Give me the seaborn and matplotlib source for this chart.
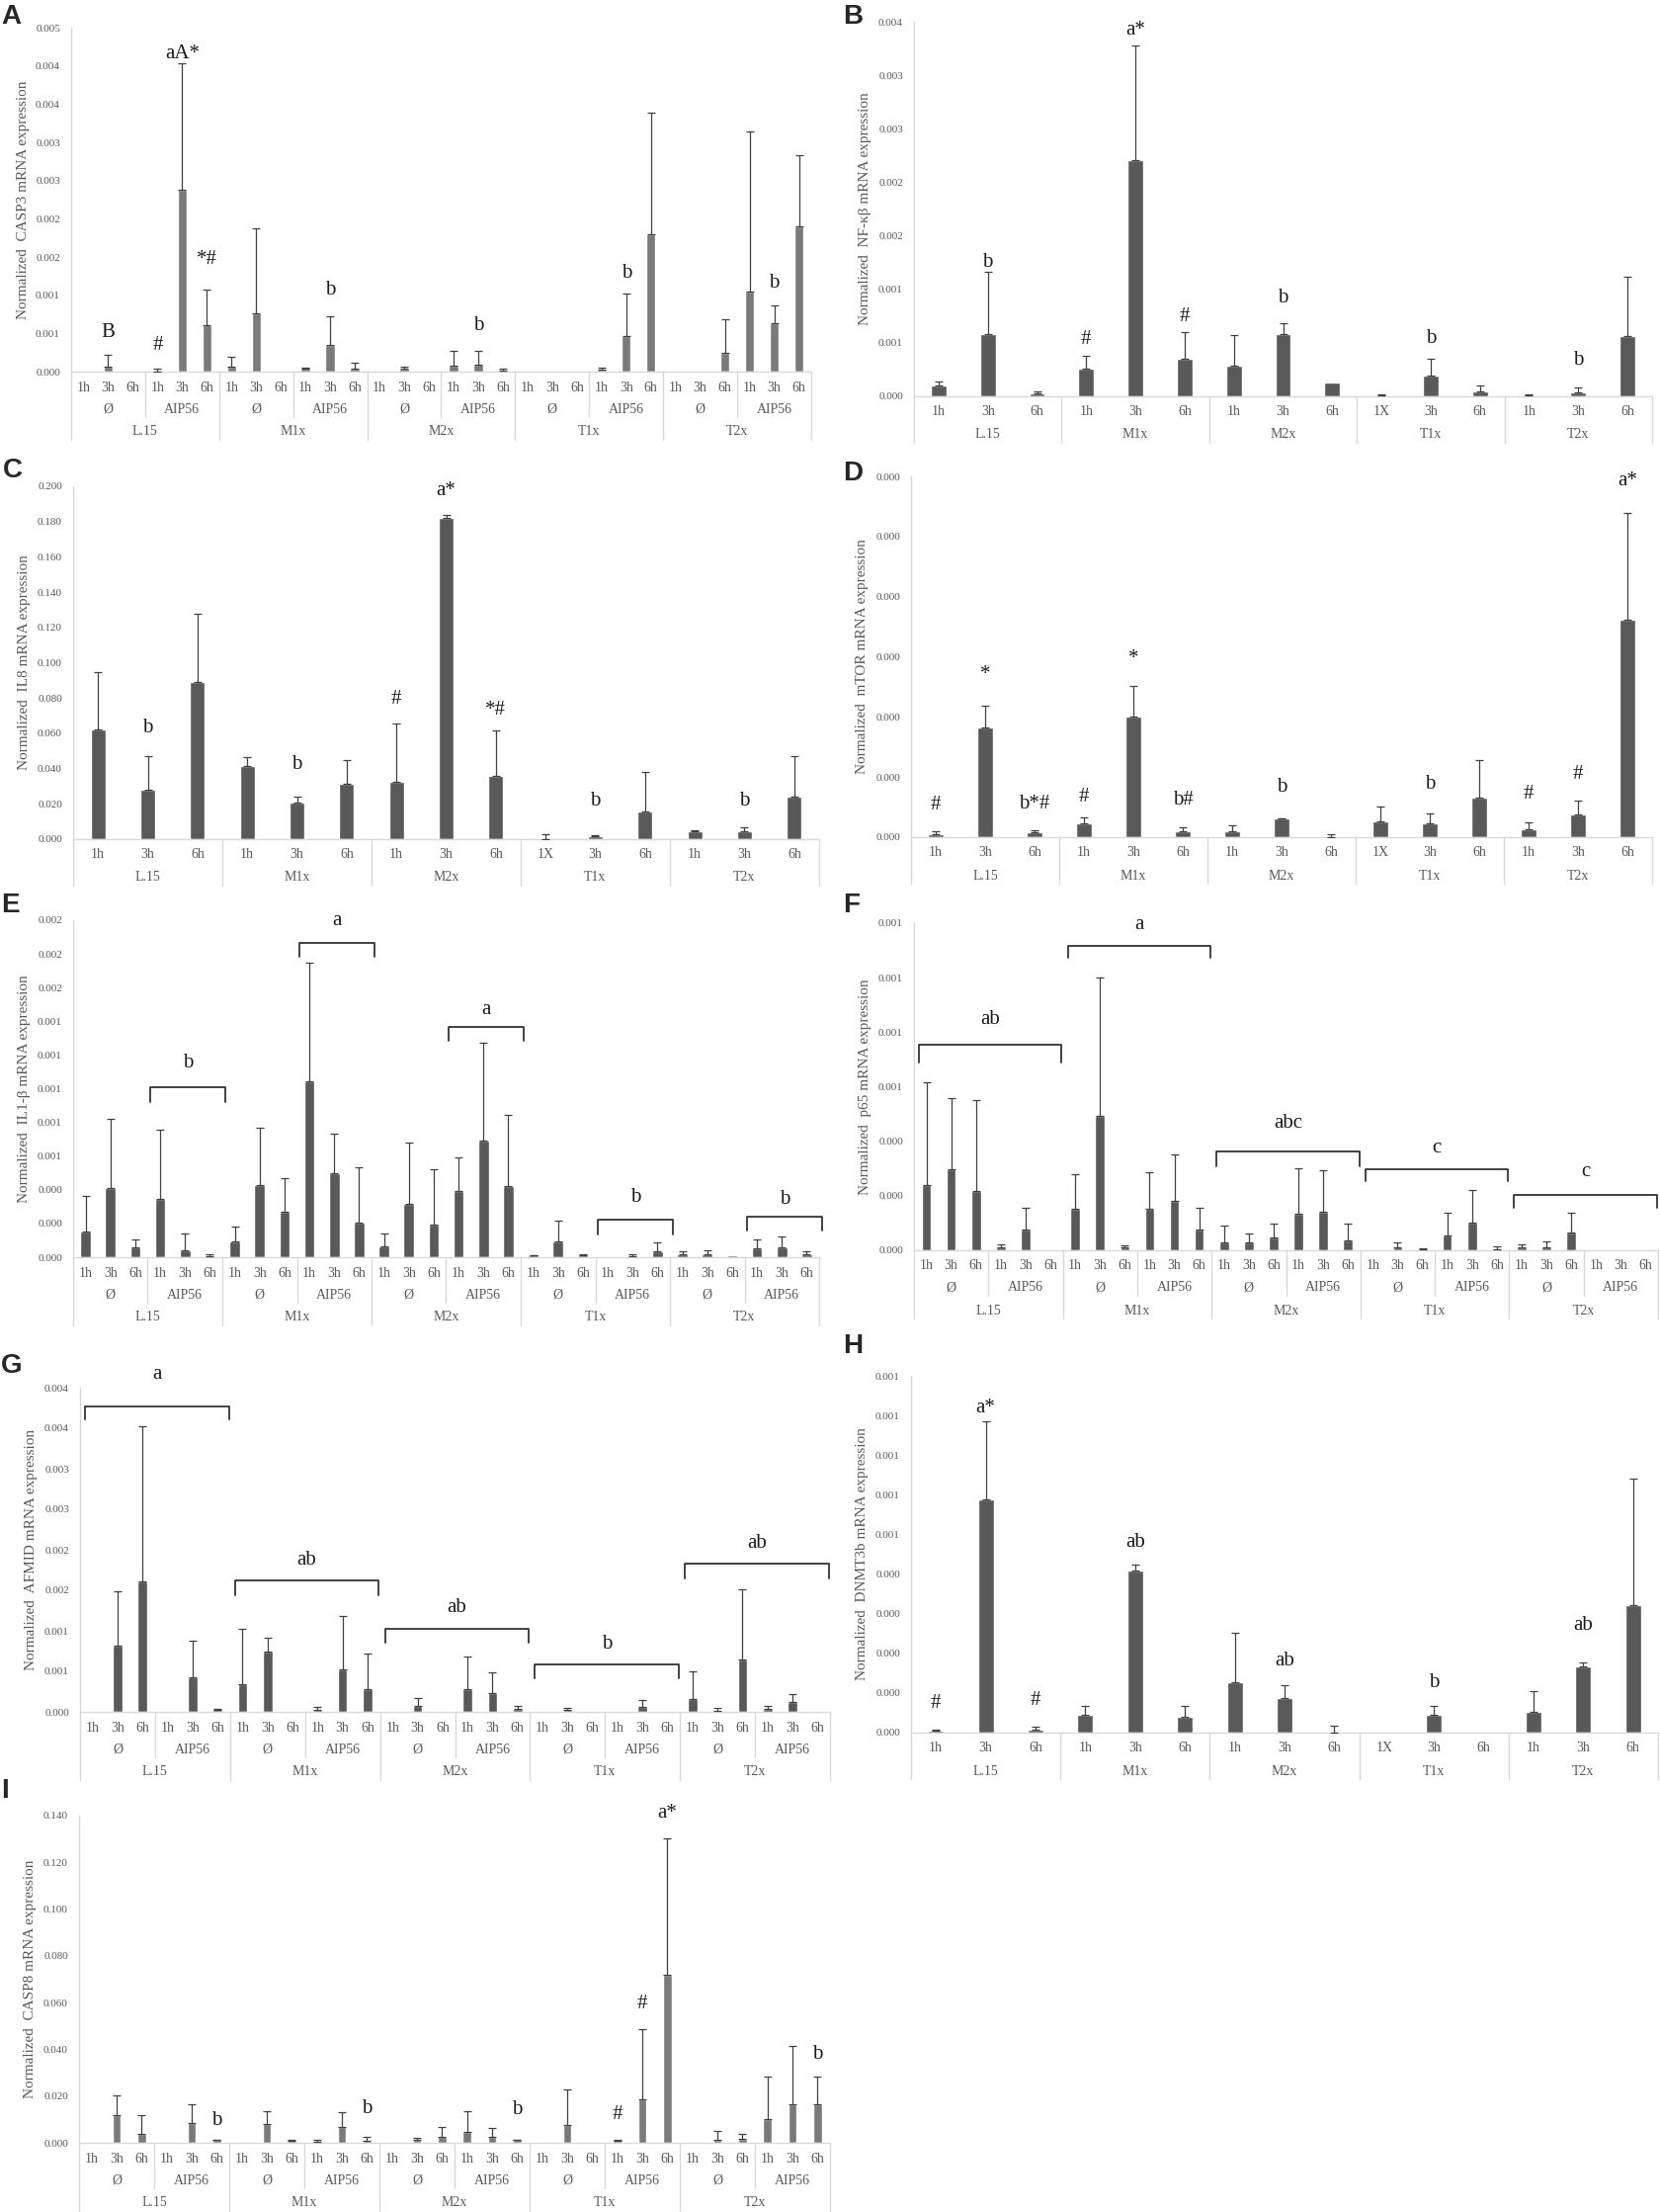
import numpy as np
import pandas as pd
import matplotlib

matplotlib.use("Agg")
import matplotlib.pyplot as plt
import seaborn as sns
from matplotlib.transforms import blended_transform_factory

# x-axis category labels
cell_lines = ["L.15", "M1x", "M2x", "T1x", "T2x"]
treatments = ["Ø", "AIP56"]
times_30 = ["1h", "3h", "6h"] * 10
times_15 = ["1h", "3h", "6h", "1h", "3h", "6h", "1h", "3h", "6h",
            "1X", "3h", "6h", "1h", "3h", "6h"]

# A - CASP3 (30 bars)
casp3_mean = [0.00001, 0.00007, 0.00001, 0.000005, 0.00238, 0.00061,
              0.000065, 0.00076, 0.00001, 0.00004, 0.000345, 0.00004,
              0.000005, 0.000035, 0.00001, 0.000082, 0.000095, 0.00001,
              0.000005, 0.000008, 0.000005, 0.000026, 0.00046, 0.0018,
              0.000005, 0.000005, 0.00025, 0.00105, 0.00063, 0.0019]
casp3_sd = [0, 0.000155, 0, 0.000035, 0.00165, 0.00046,
            0.00013, 0.00111, 0, 0.000016, 0.000375, 0.00008,
            0, 0.00003, 0, 0.000188, 0.000175, 0.000025,
            0, 0, 0, 0.00003, 0.00056, 0.00159,
            0, 0, 0.00044, 0.00209, 0.00024, 0.00093]
casp3_ticks = [0, 0.0005, 0.001, 0.0015, 0.002, 0.0025, 0.003, 0.0035, 0.004, 0.0045]
casp3_tick_labels = ["0.000", "0.001", "0.001", "0.002", "0.002", "0.003", "0.003", "0.004", "0.004", "0.005"]
casp3_notes = [(1, "B", 0.00051), (3, "#", 0.00034), (4, "aA*", 0.00416), (5, "*#", 0.00147),
               (10, "b", 0.00107), (16, "b", 0.00060), (22, "b", 0.00129), (28, "b", 0.00116)]

# B - NF-kb (15 bars)
nfkb_mean = [0.0001, 0.00058, 0.00003, 0.00026, 0.00221, 0.00035, 0.000286, 0.00058,
             0.00013, 0.00001, 0.000194, 0.000046, 0.00001, 0.00004, 0.00056]
nfkb_sd = [0.00004, 0.00058, 0.000016, 0.000118, 0.00107, 0.000253, 0.000289, 0.000106,
           0, 0.000011, 0.000154, 0.000054, 0.00001, 0.00004, 0.00056]
nfkb_ticks = [0, 0.0005, 0.001, 0.0015, 0.002, 0.0025, 0.003, 0.0035]
nfkb_tick_labels = ["0.000", "0.001", "0.001", "0.002", "0.002", "0.003", "0.003", "0.004"]
nfkb_notes = [(4, "a*", 0.003425), (1, "b", 0.001255), (3, "#", 0.000532), (5, "#", 0.000748),
              (7, "b", 0.000923), (10, "b", 0.000538), (13, "b", 0.000338)]

# C - IL8 (15 bars)
il8_mean = [0.0621, 0.0282, 0.089, 0.0414, 0.0207, 0.0315, 0.0325, 0.1819, 0.0358,
            0.0002, 0.0019, 0.0155, 0.0045, 0.0045, 0.0241]
il8_sd = [0.0325, 0.0188, 0.0388, 0.0051, 0.0032, 0.0133, 0.0332, 0.0017, 0.0256,
          0.0024, 0.0003, 0.0224, 0.0004, 0.0024, 0.0229]
il8_ticks = [0, 0.02, 0.04, 0.06, 0.08, 0.10, 0.12, 0.14, 0.16, 0.18, 0.20]
il8_tick_labels = ["0.000", "0.020", "0.040", "0.060", "0.080", "0.100", "0.120", "0.140", "0.160", "0.180", "0.200"]
il8_notes = [(7, "a*", 0.1972), (1, "b", 0.0632), (4, "b", 0.0424), (6, "#", 0.0793),
             (8, "*#", 0.0731), (10, "b", 0.0213), (13, "b", 0.0218)]

# D - mTOR (15 bars)
mtor_mean = [0.0000027, 0.0000914, 0.0000038, 0.0000118, 0.0000999, 0.0000049, 0.0000049, 0.0000153,
             0.0000003, 0.0000129, 0.0000112, 0.0000331, 0.0000066, 0.0000189, 0.0001812]
mtor_sd = [0.0000020, 0.0000183, 0.0000017, 0.0000046, 0.0000257, 0.0000036, 0.0000052, 0.0000003,
           0.0000019, 0.0000123, 0.0000085, 0.0000312, 0.0000057, 0.0000112, 0.0000885]
mtor_ticks = [0, 0.00005, 0.0001, 0.00015, 0.0002, 0.00025, 0.0003]
mtor_tick_labels = ["0.000"] * 7
mtor_notes = [(0, "#", 0.0000265), (1, "*", 0.0001355), (2, "b*#", 0.0000279), (3, "#", 0.0000334),
              (4, "*", 0.0001483), (5, "b#", 0.0000306), (7, "b", 0.0000416), (10, "b", 0.0000443),
              (12, "#", 0.0000361), (13, "#", 0.0000526), (14, "a*", 0.0002962)]

# E - IL1-b (30 bars)
il1b_mean = [0.000150, 0.000412, 0.0000605, 0.000348, 0.000043, 0.0000078,
             0.0000938, 0.00043, 0.00027, 0.001045, 0.000498, 0.000207,
             0.0000664, 0.000318, 0.000195, 0.000395, 0.000693, 0.000424,
             0.0000117, 0.0000938, 0.0000137, 0.000004, 0.0000078, 0.0000371,
             0.0000195, 0.0000195, 0.0000137, 0.0000547, 0.0000605, 0.0000176]
il1b_sd = [0.000211, 0.000412, 0.0000465, 0.000406, 0.000096, 0.0000078,
           0.0000902, 0.00034, 0.000199, 0.000701, 0.000238, 0.000326,
           0.0000726, 0.000364, 0.000328, 0.000195, 0.000577, 0.00042,
           0.000002, 0.000123, 0.000002, 0, 0.0000078, 0.0000508,
           0.0000157, 0.0000215, 0, 0.0000493, 0.0000605, 0.0000156]
il1b_ticks = [0, 0.0002, 0.0004, 0.0006, 0.0008, 0.001, 0.0012, 0.0014, 0.0016, 0.0018, 0.002]
il1b_tick_labels = ["0.000", "0.000", "0.000", "0.001", "0.001", "0.001", "0.001", "0.001", "0.002", "0.002", "0.002"]
il1b_brackets = [(3, 5, 0.001006, 0.000918, "b", 0.00115),
                 (9, 11, 0.001867, 0.001785, "a", 0.0020),
                 (15, 17, 0.001369, 0.001283, "a", 0.001469),
                 (21, 23, 0.000223, 0.000135, "b", 0.000355),
                 (27, 29, 0.000242, 0.00016, "b", 0.000346)]

# F - p65 (30 bars)
p65_mean = [0.000239, 0.000298, 0.000216, 0.0000121, 0.0000773, 0,
            0.000152, 0.000492, 0.0000121, 0.000152, 0.000181, 0.0000761,
            0.0000302, 0.000029, 0.0000483, 0.000135, 0.000141, 0.0000363,
            0, 0.0000109, 0.0000048, 0.0000544, 0.000102, 0.0000036,
            0.0000097, 0.0000097, 0.000064, 0, 0, 0.0000012]
p65_sd = [0.000377, 0.00026, 0.000334, 0.0000084, 0.0000797, 0,
          0.000128, 0.000507, 0.0000048, 0.000136, 0.000169, 0.0000809,
          0.0000604, 0.0000338, 0.0000508, 0.000165, 0.000151, 0.0000628,
          0, 0.0000193, 0.0000012, 0.0000846, 0.000119, 0.0000121,
          0.0000133, 0.0000241, 0.000075, 0, 0, 0]
p65_ticks = [0, 0.0002, 0.0004, 0.0006, 0.0008, 0.001, 0.0012]
p65_tick_labels = ["0.000", "0.000", "0.000", "0.001", "0.001", "0.001", "0.001"]
p65_brackets = [(0, 5, 0.000755, 0.000689, "ab", 0.000846),
                (6, 11, 0.001118, 0.001072, "a", 0.001193),
                (12, 17, 0.000363, 0.000308, "abc", 0.000465),
                (18, 23, 0.000298, 0.000254, "c", 0.000375),
                (24, 29, 0.000203, 0.000157, "c", 0.00029)]

# G - AFMID (30 bars)
afmid_mean = [0.000008, 0.000822, 0.001607, 0.000008, 0.000423, 0.00002,
              0.000338, 0.000744, 0, 0.00002, 0.000529, 0.000277,
              0, 0.0000732, 0.000008, 0.000277, 0.000236, 0.0000366,
              0, 0.00002, 0, 0.000008, 0.000057, 0,
              0.000155, 0.000012, 0.000651, 0.0000366, 0.000118, 0]
afmid_sd = [0, 0.000671, 0.00192, 0, 0.00046, 0.000013,
            0.000687, 0.000171, 0, 0.000045, 0.000659, 0.000439,
            0, 0.000102, 0, 0.000411, 0.000248, 0.0000324,
            0, 0.000029, 0, 0, 0.000093, 0,
            0.000341, 0.000033, 0.000866, 0.0000364, 0.000106, 0]
afmid_ticks = [0, 0.0005, 0.001, 0.0015, 0.002, 0.0025, 0.003, 0.0035, 0.004]
afmid_tick_labels = ["0.000", "0.001", "0.001", "0.002", "0.002", "0.003", "0.003", "0.004", "0.004"]
afmid_brackets = [(0, 5, 0.003763, 0.003612, "a", 0.00417),
                  (6, 11, 0.001627, 0.001444, "ab", 0.001871),
                  (12, 17, 0.001025, 0.000854, "ab", 0.001281),
                  (18, 23, 0.000582, 0.000415, "b", 0.000834),
                  (24, 29, 0.001831, 0.001648, "ab", 0.002075)]

# H - DNMT3b (15 bars)
dnmt_mean = [0.0000042, 0.000588, 0.0000075, 0.0000441, 0.00041, 0.0000408, 0.000127, 0.0000874,
             0, 0.0000017, 0.0000441, 0.0000033, 0.0000516, 0.000168, 0.000321]
dnmt_sd = [0.0000025, 0.000197, 0.0000083, 0.0000225, 0.000015, 0.0000258, 0.000124, 0.0000316,
           0.0000183, 0, 0.0000225, 0, 0.0000524, 0.000009, 0.00032]
dnmt_ticks = [0, 0.0001, 0.0002, 0.0003, 0.0004, 0.0005, 0.0006, 0.0007, 0.0008, 0.0009]
dnmt_tick_labels = ["0.000"] * 5 + ["0.001"] * 5
dnmt_notes = [(1, "a*", 0.00082), (0, "#", 0.0000733), (2, "#", 0.00008), (4, "ab", 0.000481),
              (7, "ab", 0.00018), (10, "b", 0.000125), (13, "ab", 0.000271)]

# I - CASP8 (30 bars)
casp8_mean = [0.0004, 0.01196, 0.00394, 0.00056, 0.0083, 0.0011,
              0.00056, 0.00802, 0.001, 0.00056, 0.00675, 0.0007,
              0.0004, 0.0011, 0.00253, 0.0045, 0.00267, 0.0011,
              0.0004, 0.00774, 0.0004, 0.0007, 0.01843, 0.07204,
              0.0004, 0.0014, 0.0018, 0.01027, 0.01646, 0.01646]
casp8_sd = [0, 0.00831, 0.00802, 0, 0.00816, 0.0003,
            0, 0.00535, 0.0003, 0.0007, 0.00633, 0.00183,
            0, 0.00115, 0.00422, 0.009, 0.00366, 0.0001,
            0, 0.01506, 0, 0.0006, 0.03039, 0.05836,
            0, 0.00352, 0.00186, 0.01787, 0.02491, 0.01196]
casp8_ticks = [0, 0.02, 0.04, 0.06, 0.08, 0.10, 0.12, 0.14]
casp8_tick_labels = ["0.000", "0.020", "0.040", "0.060", "0.080", "0.100", "0.120", "0.140"]
casp8_notes = [(23, "a*", 0.1411), (22, "#", 0.0595), (21, "#", 0.012), (5, "b", 0.0094),
               (11, "b", 0.0148), (17, "b", 0.0141), (29, "b", 0.0377)]

W, H = 1681, 2238
GRID = "#d9d9d9"
TXT = "#595959"

sns.set_theme(style="white")
plt.rcParams["font.family"] = ["Liberation Serif", "DejaVu Serif"]

fig = plt.figure(figsize=(W / 100, H / 100), dpi=100)


def draw_panel(box, letter, letter_xy, means, sds, ticks, tick_labels, ylabel,
               notes=(), brackets=(), three_level=True, color="#595959", bar_w=0.38):
    left, right, top, base = box
    wpx, hpx = right - left, base - top
    ax = fig.add_axes([left / W, 1 - base / H, wpx / W, hpx / H])
    n = len(means)
    df = pd.DataFrame({"slot": np.arange(n), "value": means})
    sns.barplot(data=df, x="slot", y="value", color=color, saturation=1,
                width=bar_w, errorbar=None, ax=ax)
    m, s = np.array(means), np.array(sds)
    k = s > 0
    ax.errorbar(np.arange(n)[k], m[k], yerr=[np.zeros(k.sum()), s[k]], fmt="none",
                ecolor="#404040", elinewidth=0.9, capsize=3, capthick=0.9, zorder=3)
    ax.set_xlim(-0.5, n - 0.5)
    ax.set_ylim(ticks[0], ticks[-1])
    ax.set_yticks(ticks)
    ax.set_yticklabels(tick_labels)
    ax.set_xticks([])
    ax.set_xlabel("")
    ax.set_ylabel("")
    ax.tick_params(axis="y", length=0, labelsize=8, labelcolor=TXT, pad=8)
    for sp in ["top", "right"]:
        ax.spines[sp].set_visible(False)
    for sp in ["left", "bottom"]:
        ax.spines[sp].set_color(GRID)
        ax.spines[sp].set_linewidth(1)

    trans = blended_transform_factory(ax.transData, ax.transAxes)
    lab = dict(transform=trans, ha="center", va="center", fontsize=10, color=TXT, clip_on=False)
    line = dict(transform=trans, color=GRID, lw=1, clip_on=False)
    if three_level:
        times = times_30
        for i, t in enumerate(times):
            ax.text(i, -16 / hpx, t, **lab)
        for g in range(10):
            ax.text(3 * g + 1, -38 / hpx, treatments[g % 2], **lab)
        for c in range(5):
            ax.text(6 * c + 2.5, -61 / hpx, cell_lines[c], **lab)
            ax.plot([6 * c + 2.5] * 2, [0, -46 / hpx], **line)
        for b in range(6):
            ax.plot([6 * b - 0.5] * 2, [0, -69 / hpx], **line)
    else:
        times = times_15
        for i, t in enumerate(times):
            ax.text(i, -16 / hpx, t, **lab)
        for c in range(5):
            ax.text(3 * c + 1, -39 / hpx, cell_lines[c], **lab)
        for b in range(6):
            ax.plot([3 * b - 0.5] * 2, [0, -47 / hpx], **line)

    ax.text(-49 / wpx, 0.5, ylabel, transform=ax.transAxes, rotation=90,
            ha="center", va="center", fontsize=11, color=TXT)

    for i, t, y in notes:
        ax.text(i, y, t, ha="center", va="center", fontsize=15, color="#1a1a1a", clip_on=False)
    for s0, s1, y, y_end, t, ty in brackets:
        if s1 - s0 >= 5:
            x0, x1 = s0 - 0.3, s1 + 0.45
        else:
            x0, x1 = s0 - 0.4, s1 + 0.6
        ax.plot([x0, x0, x1, x1], [y_end, y, y, y_end], color="#333333", lw=1.3, clip_on=False)
        ax.text((x0 + x1) / 2, ty, t, ha="center", va="center", fontsize=15,
                color="#1a1a1a", clip_on=False)

    fig.text(letter_xy[0] / W, 1 - letter_xy[1] / H, letter, ha="left", va="top",
             fontsize=20, fontweight="bold", family=["Liberation Sans", "DejaVu Sans"])
    return ax


draw_panel((72, 821, 28, 376), "A", (1, 4), casp3_mean, casp3_sd, casp3_ticks, casp3_tick_labels,
           "Normalized  CASP3 mRNA expression", notes=casp3_notes, color="#7a7a7a")
draw_panel((925, 1672, 22, 401), "B", (853, 4), nfkb_mean, nfkb_sd, nfkb_ticks, nfkb_tick_labels,
           "Normalized  NF-κβ mRNA expression", notes=nfkb_notes, three_level=False, bar_w=0.32)
draw_panel((74, 829, 492, 849), "C", (3, 463), il8_mean, il8_sd, il8_ticks, il8_tick_labels,
           "Normalized  IL8 mRNA expression", notes=il8_notes, three_level=False, bar_w=0.3)
draw_panel((922, 1672, 482, 847), "D", (853, 466), mtor_mean, mtor_sd, mtor_ticks, mtor_tick_labels,
           "Normalized  mTOR mRNA expression", notes=mtor_notes, three_level=False, bar_w=0.32)
draw_panel((74, 829, 931, 1272), "E", (1, 903), il1b_mean, il1b_sd, il1b_ticks, il1b_tick_labels,
           "Normalized  IL1-β mRNA expression", brackets=il1b_brackets, bar_w=0.42)
draw_panel((925, 1678, 934, 1265), "F", (853, 903), p65_mean, p65_sd, p65_ticks, p65_tick_labels,
           "Normalized  p65 mRNA expression", brackets=p65_brackets)
draw_panel((81, 840, 1404, 1732), "G", (1, 1369), afmid_mean, afmid_sd, afmid_ticks, afmid_tick_labels,
           "Normalized  AFMID mRNA expression", brackets=afmid_brackets)
draw_panel((922, 1678, 1392, 1753), "H", (853, 1349), dnmt_mean, dnmt_sd, dnmt_ticks, dnmt_tick_labels,
           "Normalized  DNMT3b mRNA expression", notes=dnmt_notes, three_level=False, bar_w=0.32)
draw_panel((80, 840, 1837, 2168), "I", (1, 1799), casp8_mean, casp8_sd, casp8_ticks, casp8_tick_labels,
           "Normalized  CASP8 mRNA expression", notes=casp8_notes, color="#7a7a7a", bar_w=0.34)

fig.savefig("out.png", dpi=100, facecolor="white")
